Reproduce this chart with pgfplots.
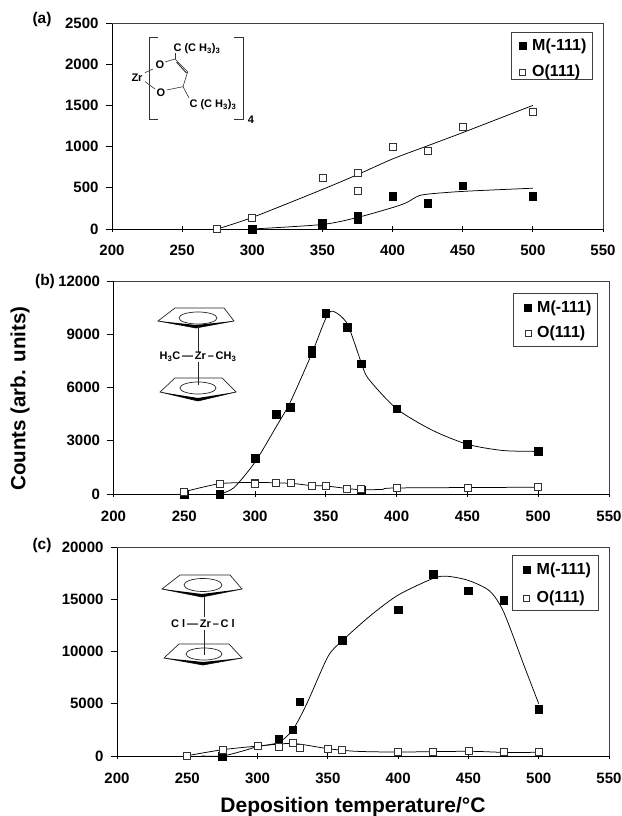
\documentclass[border=0pt]{standalone}
\usepackage{pgfplots}
\pgfplotsset{compat=1.18}
\usepackage{fontspec}
\setmainfont{Liberation Sans}
\pgfplotsset{
  panel/.style={
    scale only axis, xmin=200, xmax=550, ymin=0,
    xtick={200,250,...,550},
    scaled ticks=false,
    axis line style={line width=0.9pt,black},
    tick style={black, line width=0.9pt},
    xtick align=center, ytick align=outside,
    major tick length=6pt,
    axis x line*=bottom, axis y line*=left,
    /pgf/number format/assume math mode=true,
    /pgf/number format/fixed, /pgf/number format/1000 sep={},
    tick label style={font=\fontsize{15}{16}\selectfont\bfseries},
    xticklabel style={yshift=-10pt},
    yticklabel style={xshift=-4pt},
    clip=false,
  },
  cv/.style={no marks, black, line width=0.75pt, smooth, tension=0.45},
  mm/.style={only marks, mark=square*, mark size=3.8pt, mark options={fill=black,draw=black}},
  om/.style={only marks, mark=square*, mark size=3.5pt, mark options={fill=white,draw=black!80,line width=0.8pt}},
}
\newcommand{\lab}[1]{{\fontsize{16}{17}\selectfont\bfseries #1}}
\newcommand{\chem}[1]{{\fontsize{11}{12}\selectfont\bfseries #1}}
\newcommand{\ring}[7]{%
  \draw[line width=0.7pt,black!85] (#1,#3)--(#2,#3)--(#5,#6)--({(#4+#5)/2},#7)--(#4,#6)--cycle;
  \fill[black] (#4,#6)--({(#4+#5)/2},#7)--(#5,#6)--({(#4+#5)/2},#7+3)--cycle;
}
\begin{document}
\begin{tikzpicture}[x=1pt,y=1pt]
\path[use as bounding box] (0pt,0pt) rectangle (621pt,816pt);
% ---- (a)
\begin{axis}[panel, at={(112pt,587pt)}, anchor=south west, width=491pt, height=206pt, ymax=2500, ytick={0,500,...,2500}]
\addplot[cv] coordinates {(275,0)(300,140)(350,480)(375,660)(400,850)(425,1010)(450,1170)(500,1500)};
\addplot[cv] coordinates {(300,0)(350,55)(375,140)(400,260)(410,320)(420,410)(440,445)(460,465)(500,495)};
\addplot[mm] coordinates {(300,0)(350,45)(350,70)(375,120)(375,160)(400,400)(425,310)(450,525)(500,400)};
\addplot[om] coordinates {(275,0)(300,140)(350,620)(375,675)(375,465)(400,995)(425,945)(450,1245)(500,1425)};
\end{axis}
\draw[black!75,line width=0.7pt] (112,793)--(603,793)--(603,587);
% ---- (b)
\begin{axis}[panel, at={(113.5pt,322pt)}, anchor=south west, width=495.5pt, height=213pt, ymax=12000, ytick={0,3000,...,12000}]
\addplot[cv] coordinates {(275,0)(285,350)(300,1800)(315,3800)(325,5200)(340,7900)(350,9900)(355,10300)(365,9600)(375,7400)(380,6500)(400,4800)(425,3600)(450,2800)(475,2450)(500,2400)};
\addplot[cv] coordinates {(250,130)(275,580)(300,650)(325,600)(340,470)(350,450)(365,310)(375,240)(390,260)(400,340)(500,380)};
\addplot[mm] coordinates {(250,0)(275,0)(300,2000)(315,4500)(325,4900)(340,8100)(340,7900)(350,10200)(365,9400)(375,7350)(375,200)(400,4800)(450,2800)(500,2400)};
\addplot[om] coordinates {(250,130)(275,550)(300,650)(300,580)(315,650)(325,600)(340,470)(350,450)(365,310)(375,300)(400,320)(450,340)(500,380)};
\end{axis}
\draw[black!75,line width=0.7pt] (113.5,535)--(609,535)--(609,322);
% ---- (c)
\begin{axis}[panel, at={(117pt,60pt)}, anchor=south west, width=492pt, height=209pt, ymax=20000, ytick={0,5000,...,20000}]
\addplot[cv] coordinates {(260,0)(275,0)(290,500)(300,900)(315,1300)(325,2500)(335,5000)(350,9500)(360,11000)(380,13400)(400,15400)(425,17000)(435,17200)(450,16800)(465,15800)(475,13800)(490,8500)(500,5000)};
\addplot[cv] coordinates {(250,30)(275,600)(300,950)(325,1200)(350,700)(370,450)(400,380)(450,450)(475,350)(500,350)};
\addplot[mm] coordinates {(275,0)(315,1600)(325,2500)(330,5200)(360,11100)(400,14000)(425,17400)(450,15800)(475,14900)(500,4500)};
\addplot[om] coordinates {(250,30)(275,600)(300,950)(315,900)(325,1250)(330,800)(350,700)(360,600)(400,350)(425,370)(450,480)(475,400)(500,350)};
\end{axis}
\draw[black!75,line width=0.7pt] (117,269)--(609,269)--(609,60);
% ---- panel labels and axis titles
\node[anchor=center] at (42,796) {{\fontsize{15.5}{16}\selectfont\bfseries (a)}};
\node[anchor=center] at (45,534) {{\fontsize{15.5}{16}\selectfont\bfseries (b)}};
\node[anchor=center] at (42,271) {{\fontsize{15.5}{16}\selectfont\bfseries (c)}};
\node[rotate=90] at (20,417.5) {\fontsize{20.5}{22}\selectfont\bfseries Counts (arb. units)};
\node at (353,9) {\fontsize{21}{23}\selectfont\bfseries Deposition temperature/°C};
% ---- legends
\foreach \xa/\ya/\xb/\yb/\lx/\tx/\yone/\ytwo in {511/784/592/737/522.5/532/770/744,513/523/597/470/528/537/508/483,512/261/598/206/526.5/536.5/246/218}{
  \draw[black!75,line width=0.9pt,fill=white] (\xa,\ya) rectangle (\xb,\yb);
  \fill[black] (\lx-4,\yone-4) rectangle (\lx+4,\yone+4);
  \draw[black!80,line width=0.8pt,fill=white] (\lx-3,\ytwo-3) rectangle (\lx+3,\ytwo+3);
  \node[anchor=west,inner sep=0] at (\tx,\yone) {\lab{M(-111)}};
  \node[anchor=west,inner sep=0] at (\tx,\ytwo) {\lab{O(111)}};
}
% ---- structure a (bracketed ligand)
\begin{scope}[line width=0.6pt,black!80]
\draw (158,779)--(149,779)--(149,697)--(158,697);
\draw (234,779)--(243,779)--(243,697)--(234,697);
\draw (145,743.3)--(153,747)(145,734.3)--(155,727);
\draw (165,754)--(175,757)--(187.7,744.3)--(183,729.3)--(166.7,726);
\draw[line width=1pt] (176.5,754)--(186.5,743);
\draw (183,729.3)--(189,718);
\draw (175,757)--(175,763);
\end{scope}
\node at (137,738) {\chem{Zr}};
\node at (160,751) {\chem{O}};
\node at (161,723) {\chem{O}};
\node at (197,767) {\chem{C (C H$_{\mathbf{3}}$)$_{\mathbf{3}}$}};
\node at (213,711) {\chem{C (C H$_{\mathbf{3}}$)$_{\mathbf{3}}$}};
\node at (251,696) {\chem{4}};
% ---- structure b
\ring{175}{224}{508}{158}{234}{495}{488}
\draw[line width=0.7pt,black!85] (198,490)--(198,464);
\draw[line width=0.7pt,black!85] (198,454)--(198,431);
\draw[line width=0.7pt,black!85] (198,498) ellipse (19pt and 6pt);
\node at (198,459) {\chem{H$_{\mathbf{3}}$C\,—\,Zr\,–\,CH$_{\mathbf{3}}$}};
\ring{175}{222}{438}{160}{236}{424}{415}
\draw[line width=0.7pt,black!85] (198,428) ellipse (18pt and 6pt);
% ---- structure c
\ring{180}{230}{241}{162}{242}{227}{219}
\draw[line width=0.7pt,black!85] (203,231) ellipse (19pt and 6.5pt);
\draw[line width=0.7pt,black!85] (204,219)--(204,199);
\node at (203,192) {\chem{C l\,—\,Zr\,–\,C l}};
\draw[line width=0.7pt,black!85] (204,186)--(204,161);
\ring{179}{229}{172}{164}{242}{158}{151}
\draw[line width=0.7pt,black!85] (204,162) ellipse (18pt and 6pt);
\end{tikzpicture}
\end{document}
